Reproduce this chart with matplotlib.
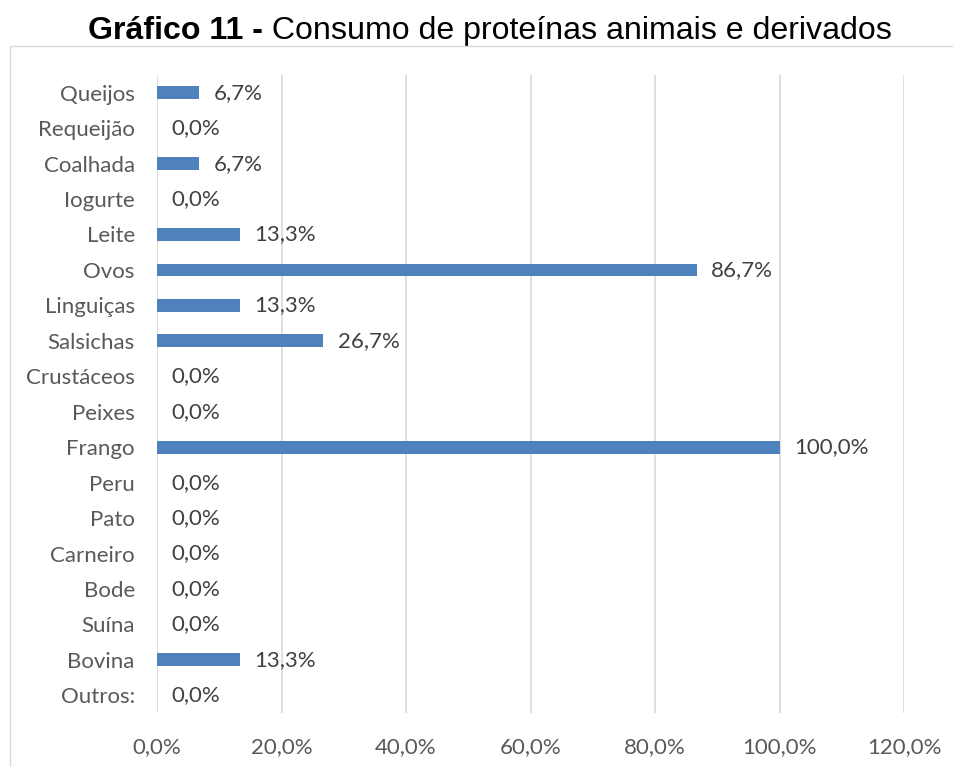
import matplotlib
matplotlib.use("Agg")
import matplotlib.pyplot as plt
from matplotlib.patches import Rectangle


TITLE_BOLD = "Gráfico 11 -"
TITLE_REST = " Consumo de proteínas animais e derivados"

CATEGORIES = [
    "Queijos", "Requeijão", "Coalhada", "Iogurte", "Leite", "Ovos",
    "Linguiças", "Salsichas", "Crustáceos", "Peixes", "Frango", "Peru",
    "Pato", "Carneiro", "Bode", "Suína", "Bovina", "Outros:",
]
VALUES = [
    6.7, 0.0, 6.7, 0.0, 13.3, 86.7,
    13.3, 26.7, 0.0, 0.0, 100.0, 0.0,
    0.0, 0.0, 0.0, 0.0, 13.3, 0.0,
]
X_TICKS = [0, 20, 40, 60, 80, 100, 120]

BAR_COLOR = "#4F81BD"
GRID_COLOR = "#D9D9D9"
AXIS_TEXT = "#595959"
VALUE_TEXT = "#404040"
FONT = "Lato"
FS = 16


def pct(v: float) -> str:
    return f"{v:.1f}%".replace(".", ",")


def main() -> None:
    W, H = 954, 767
    fig = plt.figure(figsize=(W / 100, H / 100), dpi=100)

    # chart frame (Excel chart area border)
    fig.patches.append(
        Rectangle((10 / W, -0.1), 2.0, 1.1 - 46 / H,
                  transform=fig.transFigure, fill=False,
                  edgecolor=GRID_COLOR, linewidth=1.0)
    )

    ax = fig.add_axes([157 / W, 1 - 713 / H, (904 - 157) / W, (713 - 75) / H])
    y = list(range(len(CATEGORIES)))
    ax.barh(y, VALUES, height=0.36, color=BAR_COLOR, zorder=3)

    for yi, v in zip(y, VALUES):
        ax.annotate(pct(v), xy=(v, yi), xytext=(10.5, 0), textcoords="offset points",
                    ha="left", va="center", fontsize=FS, family=FONT,
                    color=VALUE_TEXT, zorder=4)

    ax.set_xlim(0, 120)
    ax.set_ylim(len(CATEGORIES) - 0.5, -0.5)
    ax.set_xticks(X_TICKS)
    ax.set_xticklabels([pct(t) for t in X_TICKS])
    ax.set_yticks(y)
    ax.set_yticklabels(CATEGORIES)
    ax.tick_params(axis="both", length=0, labelsize=FS, labelcolor=AXIS_TEXT)
    ax.tick_params(axis="x", pad=17)
    ax.tick_params(axis="y", pad=16)
    for lab in ax.get_xticklabels() + ax.get_yticklabels():
        lab.set_family(FONT)

    ax.grid(axis="x", color=GRID_COLOR, linewidth=1.2, zorder=0)
    ax.set_axisbelow(True)
    for spine in ax.spines.values():
        spine.set_visible(False)

    t1 = fig.text(88 / W, 1 - 39 / H, TITLE_BOLD, fontsize=23.1, fontweight="bold",
                  family="Liberation Sans", ha="left", va="baseline")
    ax.annotate(TITLE_REST, xy=(1, 0), xycoords=t1, ha="left", va="bottom",
                fontsize=23.1, family="Liberation Sans", annotation_clip=False)

    fig.savefig("out.png", dpi=100)


if __name__ == "__main__":
    main()
